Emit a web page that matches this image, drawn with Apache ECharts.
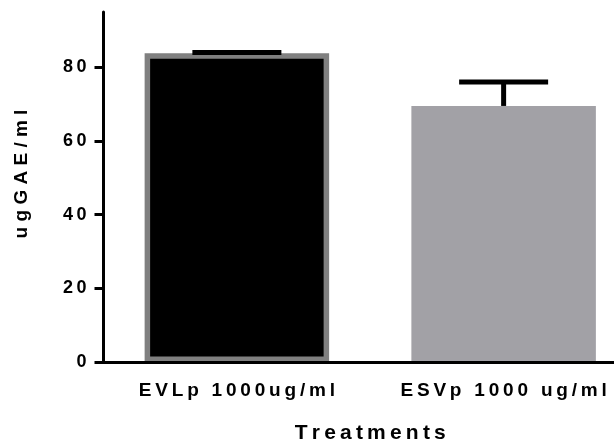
<!DOCTYPE html>
<html>
<head>
<meta charset="utf-8">
<script src="https://cdn.jsdelivr.net/npm/echarts@6/dist/echarts.min.js"></script>
<style>
  html, body { margin: 0; padding: 0; background: #fff; }
  #chart { width: 614px; height: 445px; }
</style>
</head>
<body>
<div id="chart"></div>
<script>
// data
const categories = ['EVLp 1000ug/ml', 'ESVp 1000 ug/ml']
const means = [83.8, 69.5]
const errorTops = [84.0, 76.0]
const barColors = ['#000000', '#a2a1a6']
const borderColors = ['#808080', '#a2a1a6']
const yTicks = [0, 20, 40, 60, 80]

// Prism style spaced-out lettering (thin space between letters)
const spaced = (s, sep) => s.split('').join(sep || '\u2009')

var myChart = echarts.init(document.getElementById('chart'))

var option = {
    animation: false,
    backgroundColor: '#fff',
    grid: {
        left: 103.5,
        right: -23,
        top: 12,
        bottom: 83,
        outerBoundsMode: 'none'
    },
    xAxis: {
        type: 'category',
        data: categories,
        z: 10,
        name: spaced('Treatments'),
        nameLocation: 'middle',
        nameGap: 61,
        nameTextStyle: {
            color: '#000',
            fontFamily: 'Liberation Sans',
            fontWeight: 'bold',
            fontSize: 21
        },
        axisLine: { lineStyle: { color: '#000', width: 3 } },
        axisTick: { alignWithLabel: true, length: 8, lineStyle: { color: '#000', width: 3 } },
        axisLabel: {
            margin: 19,
            interval: 0,
            color: '#000',
            fontFamily: 'Liberation Sans',
            fontWeight: 'bold',
            fontSize: 19,
            formatter: v => spaced(v)
        }
    },
    yAxis: {
        type: 'value',
        min: 0,
        max: 95,
        interval: 20,
        z: 10,
        splitLine: { show: false },
        axisLine: { show: true, lineStyle: { color: '#000', width: 3 } },
        axisTick: { show: true, length: 9, customValues: yTicks, lineStyle: { color: '#000', width: 3 } },
        axisLabel: {
            margin: 17,
            color: '#000',
            fontFamily: 'Liberation Sans',
            fontWeight: 'bold',
            fontSize: 18,
            customValues: yTicks,
            formatter: v => spaced(String(v))
        }
    },
    graphic: [
        {
            type: 'text',
            x: 22,
            y: 174,
            rotation: Math.PI / 2,
            style: {
                text: spaced('ugGAE/ml', ' '),
                font: 'bold 19px "Liberation Sans"',
                fill: '#000',
                align: 'center',
                verticalAlign: 'middle'
            }
        }
    ],
    series: [
        {
            type: 'bar',
            barWidth: 184.5,
            data: means.map((v, i) => ({
                value: v,
                itemStyle: {
                    color: barColors[i],
                    borderColor: borderColors[i],
                    borderWidth: i === 0 ? 5.5 : 0
                }
            }))
        },
        {
            type: 'custom',
            z: 5,
            data: means.map((v, i) => [i, v, errorTops[i]]),
            renderItem: function (params, api) {
                var top = api.coord([api.value(0), api.value(2)])
                var base = api.coord([api.value(0), api.value(1)])
                var style = { stroke: '#000', lineWidth: 5 }
                return {
                    type: 'group',
                    children: [
                        { type: 'line', shape: { x1: top[0], y1: top[1], x2: base[0], y2: base[1] }, style: style },
                        { type: 'line', shape: { x1: top[0] - 44.5, y1: top[1], x2: top[0] + 44.5, y2: top[1] }, style: style }
                    ]
                }
            }
        }
    ]
}

myChart.setOption(option)
</script>
</body>
</html>
